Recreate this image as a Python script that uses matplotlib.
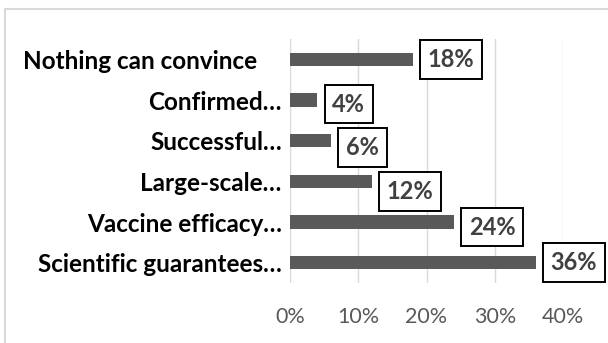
import numpy as np
import matplotlib.pyplot as plt
from matplotlib.lines import Line2D
import matplotlib.transforms as mtransforms

categories = ["Scientific guarantees…", "Vaccine efficacy…", "Large-scale…",
              "Successful…", "Confirmed…", "Nothing can convince"]
shares = [36, 24, 12, 6, 4, 18]
tick_vals = [0, 10, 20, 30, 40]
tick_labels = ["0%", "10%", "20%", "30%", "40%"]
# vertical nudge of each value box, in pixels (down is negative)
label_drop = [0, -5, -10, -7, -4, 0]

plt.rcParams['font.family'] = ['Lato', 'DejaVu Sans']

fig = plt.figure(figsize=(6.08, 3.43), dpi=100)
ax = fig.add_axes([0.477, 0.175, 0.449, 0.711])

y = np.arange(len(categories))
ax.barh(y, shares, height=0.33, color="#595959", zorder=2)

ax.set_xlim(0, 40)
ax.set_ylim(-0.5, len(categories) - 0.5)
ax.set_xticks(tick_vals)
ax.set_xticklabels(tick_labels, fontsize=15.5, color="#595959")
ax.set_yticks(y)
ax.set_yticklabels(categories, fontsize=17.5, fontweight="bold", color="black")
ax.tick_params(axis="both", length=0)
ax.tick_params(axis="y", pad=6)
ax.tick_params(axis="x", pad=17)
ax.grid(axis="x", color="#d9d9d9", linewidth=1.0, zorder=0)
for s in ax.spines.values():
    s.set_visible(False)

# the last label sits a bit further left than the others
lbl = ax.get_yticklabels()[-1]
lbl.set_transform(lbl.get_transform() + mtransforms.ScaledTranslation(-25 / 100, 0, fig.dpi_scale_trans))

for i, v in enumerate(shares):
    ax.annotate(f"{v}%", xy=(v, i), xytext=(15, label_drop[i]), textcoords="offset pixels",
                ha="left", va="center", fontsize=17, fontweight="bold", color="#404040",
                annotation_clip=False,
                bbox=dict(boxstyle="square,pad=0.33", fc="white", ec="black", lw=1.4))

# light frame around the chart
fig.add_artist(Line2D([5 / 608, 1], [1 - 9 / 343, 1 - 9 / 343], transform=fig.transFigure,
                      color="#d9d9d9", lw=1.5))
fig.add_artist(Line2D([5 / 608, 5 / 608], [0, 1 - 9 / 343], transform=fig.transFigure,
                      color="#d9d9d9", lw=1.5))

fig.savefig("out.png", dpi=100)
